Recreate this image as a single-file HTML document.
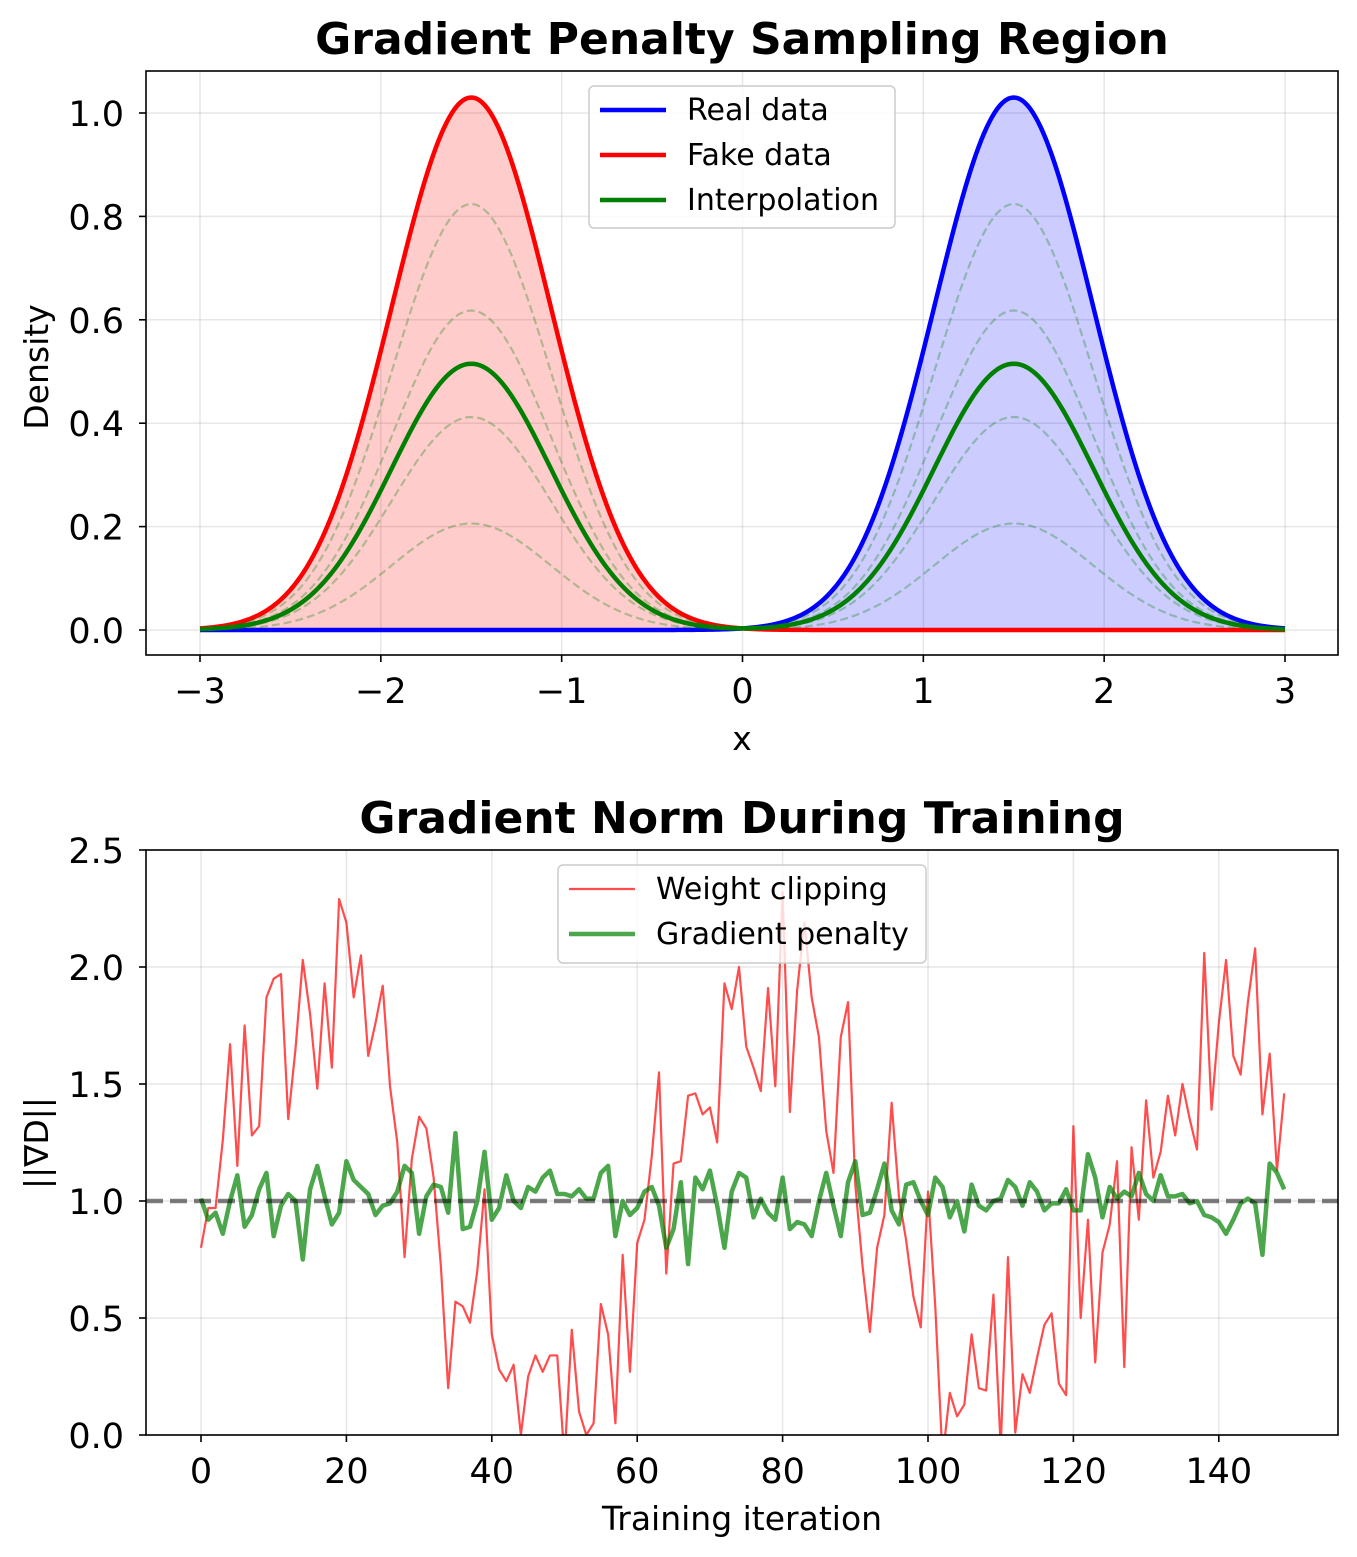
<!DOCTYPE html>
<html><head><meta charset="utf-8">
<style>
body{margin:0;background:#fff;}
svg{display:block;font-family:"DejaVu Sans","Liberation Sans",sans-serif;}
</style></head>
<body>
<svg id="fig" width="1357" height="1557" viewBox="0 0 1357 1557" xmlns="http://www.w3.org/2000/svg">
<rect width="1357" height="1557" fill="#fff"/>
<defs>
<clipPath id="clipTop"><rect x="146" y="71" width="1192" height="584"/></clipPath>
<clipPath id="clipBot"><rect x="146" y="850" width="1192" height="585"/></clipPath>
</defs>
<g id="top"></g>
<g id="bot"></g>
</svg>
<script>
// ---- Top chart data ----
const topXTicks = [-3,-2,-1,0,1,2,3];
const topYTicks = [0.0,0.2,0.4,0.6,0.8,1.0];
const realMean = 1.5, fakeMean = -1.5;
const distSigma = 0.44;
const distPeak = 1.03;
const dashedAlphas = [0.2,0.4,0.6,0.8];
const mainAlpha = 0.5;

// ---- Bottom chart data ----
const botXTicks = [0,20,40,60,80,100,120,140];
const botYTicks = [0.0,0.5,1.0,1.5,2.0,2.5];
const weightClipping = [0.80,0.97,0.97,1.26,1.67,1.15,1.75,1.28,1.32,1.87,1.95,1.97,1.35,1.65,2.03,1.80,1.48,1.93,1.57,2.29,
2.19,1.87,2.05,1.62,1.76,1.92,1.49,1.25,0.76,1.18,1.36,1.31,1.10,0.72,0.20,0.57,0.55,0.48,0.70,1.05,
0.43,0.28,0.23,0.30,0.00,0.25,0.34,0.27,0.34,0.34,-0.10,0.45,0.10,0.00,0.05,0.56,0.43,0.05,0.77,0.27,
0.82,0.92,1.19,1.55,0.69,1.16,1.17,1.45,1.46,1.37,1.40,1.25,1.93,1.82,2.00,1.66,1.57,1.47,1.91,1.49,
2.32,1.38,1.90,2.19,1.87,1.70,1.30,1.12,1.70,1.85,1.07,0.72,0.44,0.80,0.94,1.42,1.02,0.83,0.59,0.46,
1.04,0.55,-0.10,0.18,0.08,0.13,0.43,0.20,0.19,0.60,-0.05,0.76,0.01,0.26,0.18,0.33,0.47,0.52,0.22,0.17,
1.32,0.50,0.92,0.31,0.78,0.90,1.17,0.29,1.23,0.92,1.43,1.10,1.21,1.45,1.28,1.50,1.35,1.22,2.06,1.39,
1.76,2.03,1.62,1.54,1.85,2.08,1.37,1.63,1.13,1.46];
const gradientPenalty = [1.01,0.92,0.95,0.86,1.00,1.11,0.89,0.94,1.05,1.12,0.85,0.98,1.03,1.00,0.75,1.05,1.15,1.02,0.90,0.95,
1.17,1.09,1.06,1.03,0.94,0.98,0.99,1.04,1.15,1.12,0.86,1.02,1.07,1.06,0.95,1.29,0.88,0.89,1.00,1.21,
0.92,0.97,1.11,1.00,0.97,1.06,1.04,1.10,1.13,1.03,1.03,1.02,1.05,1.01,1.01,1.12,1.15,0.85,1.00,0.94,
0.97,1.04,1.06,0.98,0.80,0.88,1.08,0.73,1.10,1.05,1.13,0.98,0.80,1.04,1.12,1.10,0.93,1.01,0.95,0.92,
1.10,0.88,0.91,0.90,0.85,1.00,1.12,0.98,0.85,1.08,1.17,0.94,0.95,1.05,1.16,0.96,0.90,1.07,1.08,1.00,
0.94,1.10,1.06,0.93,1.00,0.87,1.07,0.98,0.96,1.00,1.01,1.09,1.06,0.98,1.08,1.04,0.96,0.99,0.99,1.05,
0.96,0.96,1.20,1.10,0.93,1.06,1.01,1.04,1.02,1.12,1.03,1.00,1.11,1.02,1.02,1.03,0.99,1.00,0.94,0.93,
0.91,0.86,0.92,0.99,1.01,0.99,0.77,1.16,1.12,1.05];
const targetNorm = 1.0;

const NS = "http://www.w3.org/2000/svg";
function mk(parent, tag, attrs, text){
  const e = document.createElementNS(NS, tag);
  for (const k in attrs) e.setAttribute(k, attrs[k]);
  if (text !== undefined) e.textContent = text;
  parent.appendChild(e);
  return e;
}
function fmtMinus(v){ return String(v).replace('-', '\u2212'); }
const TICK_FS = 35, TITLE_FS = 44, LABEL_FS = 33, LEG_FS = 30;

// ========== TOP ==========
(function(){
  const g = document.getElementById('top');
  const L=146,R=1338,T=71,B=655;
  const sx = x => 200 + (x + 3) * (1285 - 200) / 6;
  const sy = y => 630 - y * 517;
  const gauss = (x, m) => distPeak * Math.exp(-((x - m) ** 2) / (2 * distSigma * distSigma));
  topXTicks.forEach(t => {
    const l = mk(g,'line',{x1:sx(t),x2:sx(t),y1:T,y2:B,stroke:'#b0b0b0','stroke-opacity':0.3,'stroke-width':1.5});
    
    
  });
  topYTicks.forEach(t => {
    const l = mk(g,'line',{x1:L,x2:R,y1:sy(t),y2:sy(t),stroke:'#b0b0b0','stroke-opacity':0.3,'stroke-width':1.5});
    
    
  });
  const N = 400;
  const xs = [];
  for (let i=0;i<=N;i++) xs.push(-3 + 6*i/N);
  const path = f => xs.map((x,i)=>(i?'L':'M')+sx(x).toFixed(2)+','+sy(f(x)).toFixed(2)).join('');
  const area = f => path(f) + 'L'+sx(3)+','+sy(0)+'L'+sx(-3)+','+sy(0)+'Z';
  const cg = mk(g,'g',{'clip-path':'url(#clipTop)'});
  let e;
  e = mk(cg,'path',{d:area(x=>gauss(x,realMean)),fill:'#0000ff','fill-opacity':0.2,stroke:'none'});
   
  e = mk(cg,'path',{d:area(x=>gauss(x,fakeMean)),fill:'#ff0000','fill-opacity':0.2,stroke:'none'});
   
  e = mk(cg,'path',{d:path(x=>gauss(x,realMean)),fill:'none',stroke:'#0000ff','stroke-width':4.5});
   
  e = mk(cg,'path',{d:path(x=>gauss(x,fakeMean)),fill:'none',stroke:'#ff0000','stroke-width':4.5});
   
  dashedAlphas.forEach(a => {
    const p = mk(cg,'path',{d:path(x=>a*gauss(x,realMean)+(1-a)*gauss(x,fakeMean)),fill:'none',stroke:'#008000','stroke-opacity':0.3,'stroke-width':2.2,'stroke-dasharray':'8,4'});
    
    
  });
  e = mk(cg,'path',{d:path(x=>mainAlpha*gauss(x,realMean)+(1-mainAlpha)*gauss(x,fakeMean)),fill:'none',stroke:'#008000','stroke-width':4.5});
   
  e = mk(g,'rect',{x:L,y:T,width:R-L,height:B-T,fill:'none',stroke:'#000','stroke-width':1.6});
   
  topXTicks.forEach(t => {
    mk(g,'line',{x1:sx(t),x2:sx(t),y1:B,y2:B+7,stroke:'#000','stroke-width':1.6});
    const tx = mk(g,'text',{x:sx(t),y:B+48,'font-size':TICK_FS,'text-anchor':'middle',fill:'#000'},fmtMinus(t));
     
  });
  topYTicks.forEach(t => {
    mk(g,'line',{x1:L-7,x2:L,y1:sy(t),y2:sy(t),stroke:'#000','stroke-width':1.6});
    const tx = mk(g,'text',{x:L-22,y:sy(t)+13,'font-size':TICK_FS,'text-anchor':'end',fill:'#000'},t.toFixed(1));
     
  });
  e = mk(g,'text',{x:742,y:750,'font-size':LABEL_FS,'text-anchor':'middle'},'x');
   
  e = mk(g,'text',{x:48,y:367,'font-size':LABEL_FS,'text-anchor':'middle',transform:'rotate(-90 48 367)'},'Density');
   
  e = mk(g,'text',{x:742,y:54,'font-size':TITLE_FS,'font-weight':'bold','text-anchor':'middle'},'Gradient Penalty Sampling Region');
   
  const lg = mk(g,'g',{});
   
  mk(lg,'rect',{x:589,y:86,width:306,height:142,rx:5,fill:'#fff','fill-opacity':0.8,stroke:'#ccc','stroke-width':1.5});
  [['Real data','#0000ff'],['Fake data','#ff0000'],['Interpolation','#008000']].forEach((it,i)=>{
    const y = 110 + i*45;
    const en = mk(lg,'g',{});
     
    mk(en,'line',{x1:600,x2:666,y1:y,y2:y,stroke:it[1],'stroke-width':4.5});
    mk(en,'text',{x:687,y:y+10,'font-size':LEG_FS},it[0]);
  });
})();

// ========== BOTTOM ==========
(function(){
  const g = document.getElementById('bot');
  const L=146,R=1338,T=850,B=1435;
  const sx = x => 201 + x * 7.27;
  const sy = y => 1435 - y * 234;
  botXTicks.forEach(t => {
    const l = mk(g,'line',{x1:sx(t),x2:sx(t),y1:T,y2:B,stroke:'#b0b0b0','stroke-opacity':0.3,'stroke-width':1.5});
     
  });
  botYTicks.forEach(t => {
    const l = mk(g,'line',{x1:L,x2:R,y1:sy(t),y2:sy(t),stroke:'#b0b0b0','stroke-opacity':0.3,'stroke-width':1.5});
     
  });
  const cg = mk(g,'g',{'clip-path':'url(#clipBot)'});
  const pts = arr => arr.map((v,i)=>sx(i).toFixed(2)+','+sy(v).toFixed(2)).join(' ');
  let e;
  e = mk(cg,'polyline',{points:pts(weightClipping),fill:'none',stroke:'#ff0000','stroke-opacity':0.7,'stroke-width':2.2,'stroke-linejoin':'round'});
   
  e = mk(cg,'polyline',{points:pts(gradientPenalty),fill:'none',stroke:'#008000','stroke-opacity':0.7,'stroke-width':4.5,'stroke-linejoin':'round'});
   
  e = mk(cg,'line',{x1:L,x2:R,y1:sy(targetNorm),y2:sy(targetNorm),stroke:'#000','stroke-opacity':0.5,'stroke-width':4.5,'stroke-dasharray':'17,7'});
   
  e = mk(g,'rect',{x:L,y:T,width:R-L,height:B-T,fill:'none',stroke:'#000','stroke-width':1.6});
   
  botXTicks.forEach(t => {
    mk(g,'line',{x1:sx(t),x2:sx(t),y1:B,y2:B+7,stroke:'#000','stroke-width':1.6});
    const tx = mk(g,'text',{x:sx(t),y:B+48,'font-size':TICK_FS,'text-anchor':'middle'},String(t));
     
  });
  botYTicks.forEach(t => {
    mk(g,'line',{x1:L-7,x2:L,y1:sy(t),y2:sy(t),stroke:'#000','stroke-width':1.6});
    const tx = mk(g,'text',{x:L-22,y:sy(t)+13,'font-size':TICK_FS,'text-anchor':'end'},t.toFixed(1));
     
  });
  e = mk(g,'text',{x:742,y:1530,'font-size':LABEL_FS,'text-anchor':'middle'},'Training iteration');
   
  e = mk(g,'text',{x:48,y:1143,'font-size':LABEL_FS,'text-anchor':'middle',transform:'rotate(-90 48 1143)'},'||\u2207D||');
   
  e = mk(g,'text',{x:742,y:833,'font-size':TITLE_FS,'font-weight':'bold','text-anchor':'middle'},'Gradient Norm During Training');
   
  const lg = mk(g,'g',{});
   
  mk(lg,'rect',{x:558,y:865,width:368,height:98,rx:5,fill:'#fff','fill-opacity':0.8,stroke:'#ccc','stroke-width':1.5});
  [['Weight clipping','#ff0000',2.2],['Gradient penalty','#008000',4.5]].forEach((it,i)=>{
    const y = 889 + i*45;
    const en = mk(lg,'g',{});
     
    mk(en,'line',{x1:569,x2:635,y1:y,y2:y,stroke:it[1],'stroke-opacity':0.7,'stroke-width':it[2]});
    mk(en,'text',{x:656,y:y+10,'font-size':LEG_FS},it[0]);
  });
})();
</script>
</body></html>
